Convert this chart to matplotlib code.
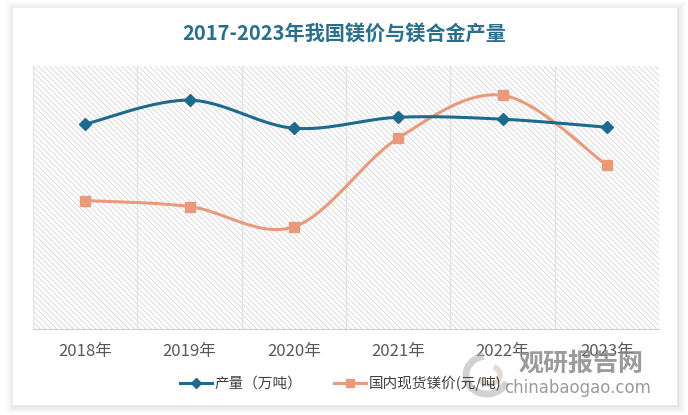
import numpy as np
import matplotlib.pyplot as plt
from matplotlib.patches import Rectangle, Arc
from matplotlib.lines import Line2D

plt.rcParams['font.family'] = ['Noto Sans CJK SC', 'DejaVu Sans']
plt.rcParams['hatch.linewidth'] = 0.5
plt.rcParams['hatch.color'] = '#cfcfcf'

# datos
years = ['2018年', '2019年', '2020年', '2021年', '2022年', '2023年']
chanliang = [86.3, 96.4, 84.6, 89.2, 88.4, 85.0]          # 产量（万吨）
jiage = [17100, 16300, 13600, 25400, 31100, 21800]        # 国内现货镁价(元/吨)

blue = '#1c6a8d'
orange = '#e99a7b'


def suave(y, n=30):
    # curva suavizada tipo Excel (bezier con tension 1/6)
    y = np.asarray(y, float)
    x = np.arange(len(y), dtype=float)
    p = np.column_stack([x, y])
    p = np.vstack([p[0], p, p[-1]])
    xs, ys = [], []
    t = np.linspace(0, 1, n)[:, None]
    for i in range(1, len(p) - 2):
        p0, p3 = p[i], p[i + 1]
        p1 = p0 + (p[i + 1] - p[i - 1]) / 6
        p2 = p3 - (p[i + 2] - p[i]) / 6
        c = (1 - t) ** 3 * p0 + 3 * (1 - t) ** 2 * t * p1 + 3 * (1 - t) * t ** 2 * p2 + t ** 3 * p3
        xs.extend(c[:, 0])
        ys.extend(c[:, 1])
    return xs, ys


fig = plt.figure(figsize=(6.88, 4.15), dpi=100)
fig.patch.set_facecolor('white')

# sombra y tarjeta
for k, a in enumerate([0.05, 0.06, 0.07, 0.08]):
    d = (4 - k) * 2
    fig.add_artist(Rectangle((13 - d + 2, 415 - 405 - d), 664 + 2 * d - 2, 397 + 2 * d - 2,
                             transform=None, facecolor='#9a9a9a', alpha=a, edgecolor='none', zorder=0))
fig.add_artist(Rectangle((13, 10), 664, 397, transform=None,
                         facecolor='white', edgecolor='none', zorder=0))

# marca de agua (detras del grafico)
fig.add_artist(Arc((487, 415 - 375), 42, 38, theta1=100, theta2=340, transform=None,
                   color='#b5b5b5', lw=5, alpha=0.6, zorder=0.5))
fig.add_artist(Arc((489, 415 - 375), 22, 18, theta1=200, theta2=60, transform=None,
                   color='#cdc3b0', lw=4, alpha=0.6, zorder=0.5))
fig.text(581 / 688, 1 - 364 / 415, '观研报告网', ha='center', va='center', fontsize=18,
         fontweight='bold', color='#8a8a8a', alpha=0.85, zorder=0.5)
fig.text(578 / 688, 1 - 388 / 415, 'chinabaogao.com', ha='center', va='center', fontsize=12,
         color='#8a8a8a', alpha=0.85, family='DejaVu Sans', zorder=0.5)

ax = fig.add_axes([33 / 688, 1 - 329 / 415, 626 / 688, 263 / 415])
ax.set_facecolor('none')
ax2 = ax.twinx()

x = np.arange(len(years))
ax.set_xlim(-0.5, 5.5)
ax.set_ylim(0, 35000)
ax2.set_ylim(0, 110.8)

# fondo rayado
hatch = Rectangle((-0.5, 0), 6, 35000, facecolor='white', edgecolor='#cfcfcf',
                  hatch='\\\\\\\\\\\\', linewidth=0, zorder=0)
ax.add_patch(hatch)
for b in np.arange(-0.5, 6, 1):
    ax.axvline(b, color='#e2e2e2', lw=1, zorder=1)

xs, ys = suave(jiage)
ax.plot(xs, ys, color=orange, lw=2.2, zorder=3, solid_capstyle='round')
ax.plot(x, jiage, 's', color=orange, ms=7.5, zorder=4)

xs, ys = suave(chanliang)
ax2.plot(xs, ys, color=blue, lw=2.2, zorder=3, solid_capstyle='round')
ax2.plot(x, chanliang, 'D', color=blue, ms=6.5, zorder=4)

for a in (ax, ax2):
    for s in ['top', 'right', 'left']:
        a.spines[s].set_visible(False)
    a.set_yticks([])
ax.spines['bottom'].set_color('#d0d0d0')
ax2.spines['bottom'].set_visible(False)
ax.set_xticks(x)
ax.set_xticklabels(years, fontsize=12, color='#595959')
ax.tick_params(axis='x', length=0, pad=10)

fig.text(0.5, 1 - 33 / 415, '2017-2023年我国镁价与镁合金产量', ha='center', va='center',
         fontsize=14.5, fontweight='bold', color='#2a6f8c')

handles = [Line2D([], [], color=blue, lw=2.2, marker='D', ms=5.5),
           Line2D([], [], color=orange, lw=2.2, marker='s', ms=6)]
fig.legend(handles, ['产量（万吨）', '国内现货镁价(元/吨)'], loc='center',
           bbox_to_anchor=(0.495, 1 - 383 / 415), ncol=2, frameon=False,
           fontsize=10.5, labelcolor='#404040', handlelength=2.2, handletextpad=0.15,
           columnspacing=2.2)

fig.savefig('out.png', dpi=100)
